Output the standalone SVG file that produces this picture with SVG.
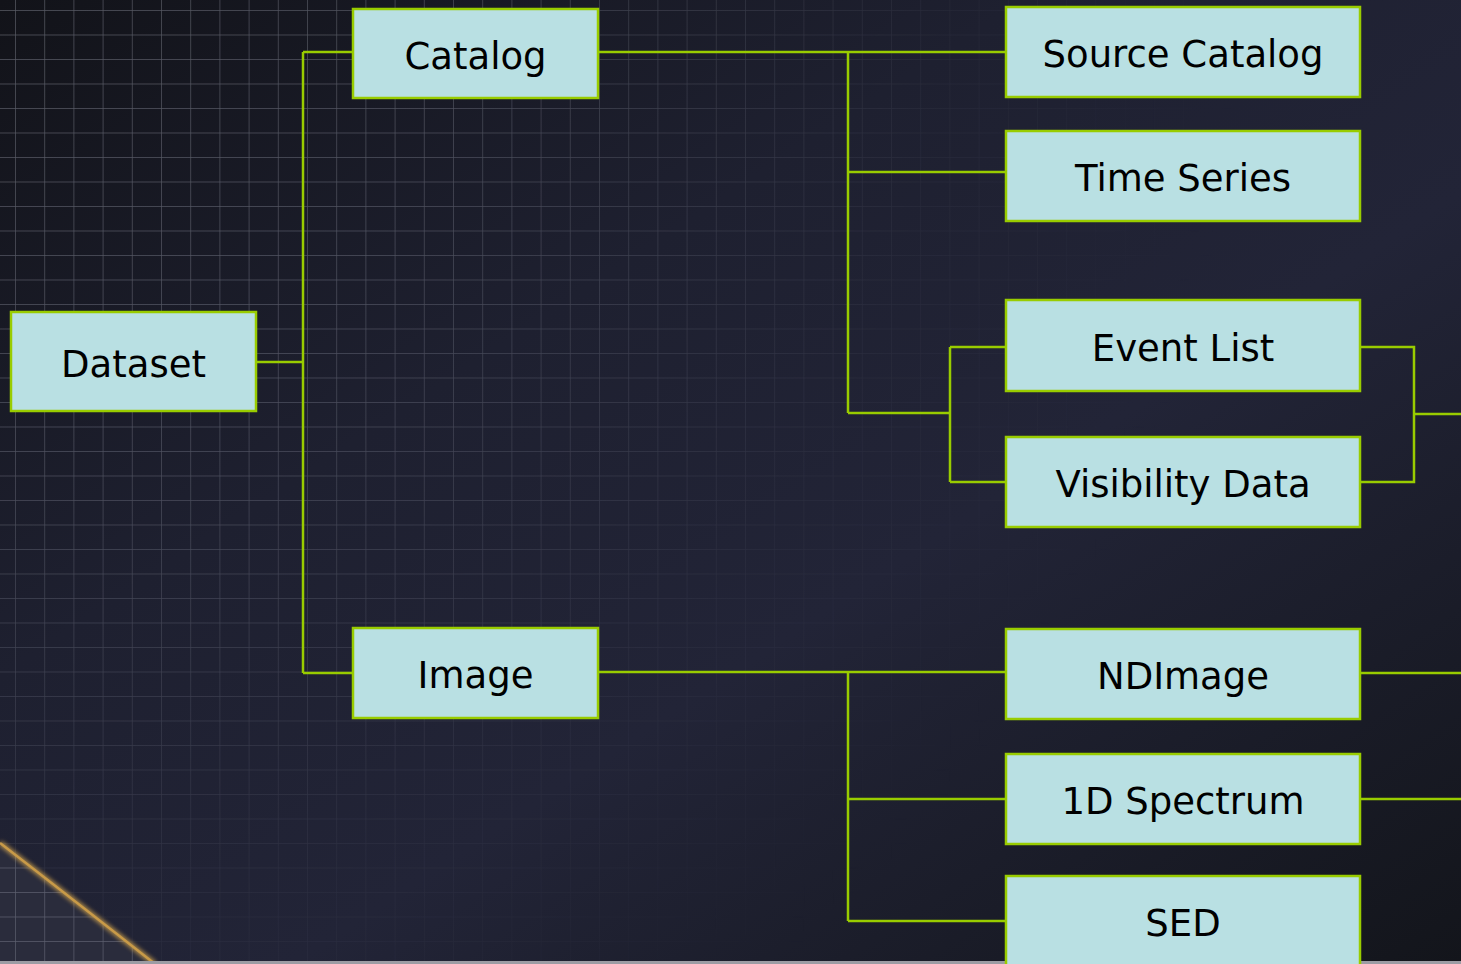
<svg xmlns="http://www.w3.org/2000/svg" width="1461" height="964" viewBox="0 0 1461 964">
  <defs>
    <style>
      .box { fill: #b9e0e3; stroke: #99cc00; stroke-width: 2.5; }
      .lbl { font-family: "DejaVu Sans", Verdana, sans-serif; font-size: 37px; fill: #000; text-anchor: middle; }
      .con { fill: none; stroke: #99cc00; stroke-width: 2.5; }
    </style>
    <linearGradient id="bg" x1="0" y1="0" x2="1" y2="1">
      <stop offset="0" stop-color="#121319"/>
      <stop offset="0.35" stop-color="#1e2030"/>
      <stop offset="0.6" stop-color="#222437"/>
      <stop offset="1" stop-color="#13151b"/>
    </linearGradient>
    <pattern id="grid" x="15" y="10" width="29.2" height="24.5" patternUnits="userSpaceOnUse">
      <path d="M0,0 V24.5 M0,0 H29.2" fill="none" stroke="#c4c8d8" stroke-width="1.4" stroke-opacity="0.4"/>
    </pattern>
    <radialGradient id="fade" cx="0" cy="0" r="1250" gradientUnits="userSpaceOnUse">
      <stop offset="0" stop-color="#fff" stop-opacity="1"/>
      <stop offset="0.35" stop-color="#fff" stop-opacity="0.8"/>
      <stop offset="0.75" stop-color="#fff" stop-opacity="0.15"/>
      <stop offset="1" stop-color="#fff" stop-opacity="0"/>
    </radialGradient>
    <mask id="gm">
      <rect width="1461" height="964" fill="url(#fade)"/>
    </mask>
    <filter id="glow" x="-20%" y="-20%" width="140%" height="140%">
      <feGaussianBlur stdDeviation="2"/>
    </filter>
  </defs>

  <g id="background">
    <rect width="1461" height="964" fill="url(#bg)"/>
    <rect width="1461" height="964" fill="url(#grid)" mask="url(#gm)"/>
    <path d="M0,843 Q80,905 155,964 L0,964 Z" fill="#2a2c3c"/>
    <path d="M0,843 Q80,905 155,964 L0,964 Z" fill="url(#grid)" opacity="0.8"/>
    <path d="M0,843 Q80,905 155,964" fill="none" stroke="#d7a84f" stroke-width="5" filter="url(#glow)" opacity="0.8"/>
    <path d="M0,843 Q80,905 155,964" fill="none" stroke="#c89a48" stroke-width="2.5"/>
    <rect x="0" y="961" width="1461" height="3" fill="#9c9ca4"/>
  </g>

  <g id="connectors">
    <path class="con" d="M256,362 H303 M303,52 V673 M303,52 H353 M303,673 H353"/>
    <path class="con" d="M598,52 H1006 M848,52 V413 M848,172 H1006 M848,413 H950 M950,347 V482 M950,347 H1006 M950,482 H1006"/>
    <path class="con" d="M1360,347 H1414 V482 H1360 M1414,414 H1461"/>
    <path class="con" d="M598,672 H1006 M848,672 V921 M848,799 H1006 M848,921 H1006"/>
    <path class="con" d="M1360,673 H1461 M1360,799 H1461"/>
  </g>

  <g id="node-dataset">
    <rect class="box" x="11" y="312" width="245" height="99"/>
    <text class="lbl" x="133.5" y="377">Dataset</text>
  </g>
  <g id="node-catalog">
    <rect class="box" x="353" y="9" width="245" height="89"/>
    <text class="lbl" x="475.5" y="69">Catalog</text>
  </g>
  <g id="node-image">
    <rect class="box" x="353" y="628" width="245" height="90"/>
    <text class="lbl" x="475.5" y="688">Image</text>
  </g>
  <g id="node-source-catalog">
    <rect class="box" x="1006" y="7" width="354" height="90"/>
    <text class="lbl" x="1183" y="67">Source Catalog</text>
  </g>
  <g id="node-time-series">
    <rect class="box" x="1006" y="131" width="354" height="90"/>
    <text class="lbl" x="1183" y="191">Time Series</text>
  </g>
  <g id="node-event-list">
    <rect class="box" x="1006" y="300" width="354" height="91"/>
    <text class="lbl" x="1183" y="361">Event List</text>
  </g>
  <g id="node-visibility-data">
    <rect class="box" x="1006" y="437" width="354" height="90"/>
    <text class="lbl" x="1183" y="497">Visibility Data</text>
  </g>
  <g id="node-ndimage">
    <rect class="box" x="1006" y="629" width="354" height="90"/>
    <text class="lbl" x="1183" y="689">NDImage</text>
  </g>
  <g id="node-1d-spectrum">
    <rect class="box" x="1006" y="754" width="354" height="90"/>
    <text class="lbl" x="1183" y="814">1D Spectrum</text>
  </g>
  <g id="node-sed">
    <rect class="box" x="1006" y="876" width="354" height="100"/>
    <text class="lbl" x="1183" y="936">SED</text>
  </g>
</svg>
